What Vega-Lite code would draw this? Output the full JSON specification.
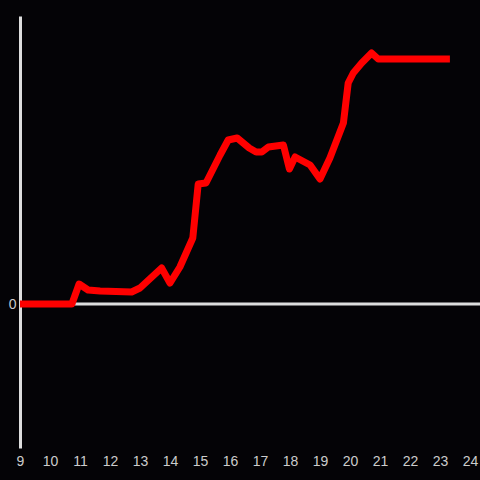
{
  "$schema": "https://vega.github.io/schema/vega-lite/v6.json",
  "width": 460,
  "height": 432,
  "autosize": "none",
  "padding": {"left": 20, "top": 16, "right": 0, "bottom": 32},
  "background": "#040306",
  "config": {"view": {"stroke": null}, "font": "Liberation Sans"},
  "data": {"values": [
    {"x": 9, "y": 0}, {"x": 10.73, "y": 0}, {"x": 10.97, "y": 20}, {"x": 11.27, "y": 14},
    {"x": 11.67, "y": 13}, {"x": 12.72, "y": 12}, {"x": 13.0, "y": 16}, {"x": 13.72, "y": 36},
    {"x": 14.0, "y": 21}, {"x": 14.33, "y": 37}, {"x": 14.76, "y": 66}, {"x": 14.94, "y": 120},
    {"x": 15.2, "y": 121}, {"x": 15.67, "y": 149}, {"x": 15.94, "y": 164}, {"x": 16.24, "y": 166},
    {"x": 16.64, "y": 156}, {"x": 16.87, "y": 152}, {"x": 17.06, "y": 152}, {"x": 17.28, "y": 157},
    {"x": 17.78, "y": 159}, {"x": 17.98, "y": 135}, {"x": 18.17, "y": 147}, {"x": 18.67, "y": 139},
    {"x": 19.0, "y": 125}, {"x": 19.33, "y": 146}, {"x": 19.78, "y": 181}, {"x": 19.94, "y": 221},
    {"x": 20.11, "y": 231}, {"x": 20.39, "y": 241}, {"x": 20.72, "y": 251}, {"x": 20.94, "y": 245},
    {"x": 23.33, "y": 245}
  ]},
  "layer": [
    {
      "data": {"values": [{"z": 0}]},
      "mark": {"type": "rule", "color": "#dddddd", "strokeWidth": 3},
      "encoding": {"y": {"field": "z", "type": "quantitative", "scale": {"domain": [-144, 288]}}}
    },
    {
      "mark": {"type": "line", "color": "#ff0000", "strokeWidth": 7, "strokeJoin": "round"},
      "encoding": {
        "x": {"field": "x", "type": "quantitative",
              "scale": {"domain": [9, 24.3333], "nice": false, "zero": false},
              "axis": {"values": [9,10,11,12,13,14,15,16,17,18,19,20,21,22,23,24], "title": null,
                       "grid": false, "domain": false, "ticks": false, "labelColor": "#cccccc",
                       "labelFontSize": 14, "labelPadding": 6, "labelFlush": false, "labelOverlap": false}},
        "y": {"field": "y", "type": "quantitative",
              "scale": {"domain": [-144, 288], "nice": false, "zero": false},
              "axis": {"values": [0], "title": null, "grid": false, "ticks": false,
                       "domainColor": "#dddddd", "domainWidth": 3, "labelColor": "#cccccc",
                       "labelFontSize": 14, "labelPadding": 4}}
      }
    }
  ]
}
